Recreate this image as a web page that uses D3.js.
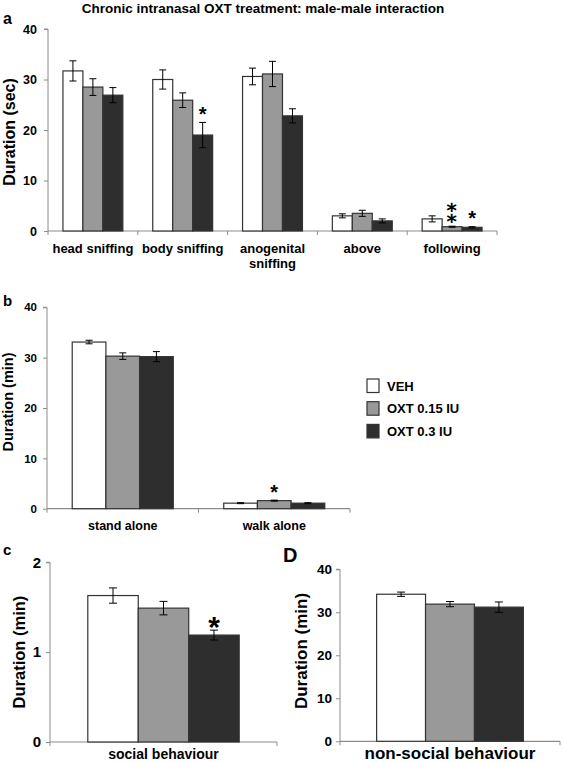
<!DOCTYPE html>
<html><head><meta charset="utf-8">
<script src="https://cdn.jsdelivr.net/npm/d3@7"></script>
<style>
html,body{margin:0;padding:0;background:#fff;}
svg{display:block;font-family:"Liberation Sans",Arial,sans-serif;font-weight:bold;}
</style></head>
<body>
<svg id="chart" width="563" height="762"></svg>
<script>
// ---------- DATA ----------
const title = "Chronic intranasal OXT treatment: male-male interaction";
const seriesNames = ["VEH", "OXT 0.15 IU", "OXT 0.3 IU"];

// Panel a
const catsA = ["head sniffing", "body sniffing", "anogenital sniffing", "above", "following"];
const vehA   = [31.7, 30.0, 30.6, 3.0, 2.4];
const vehAErr= [2.0, 1.9, 1.65, 0.4, 0.6];
const o15A   = [28.5, 25.9, 31.1, 3.5, 0.85];
const o15AErr= [1.65, 1.45, 2.5, 0.6, 0.1];
const o3A    = [26.9, 19.0, 22.8, 2.0, 0.73];
const o3AErr = [1.5, 2.5, 1.4, 0.4, 0.12];
const ticksA = [0, 10, 20, 30, 40];
const sigA = [{cat: 1, s: 2, mark: "*"}, {cat: 4, s: 1, mark: "**"}, {cat: 4, s: 2, mark: "*"}];

// Panel b
const catsB = ["stand alone", "walk alone"];
const vehB   = [33.1, 1.1];
const vehBErr= [0.35, 0.1];
const o15B   = [30.3, 1.6];
const o15BErr= [0.65, 0.1];
const o3B    = [30.2, 1.1];
const o3BErr = [1.0, 0.1];
const ticksB = [0, 10, 20, 30, 40];
const sigB = [{cat: 1, s: 1, mark: "*"}];

// Panel c
const catsC = ["social behaviour"];
const vehC   = [1.63];
const vehCErr= [0.085];
const o15C   = [1.49];
const o15CErr= [0.075];
const o3C    = [1.19];
const o3CErr = [0.055];
const ticksC = [0, 1, 2];
const sigC = [{cat: 0, s: 2, mark: "*"}];

// Panel D
const catsD = ["non-social behaviour"];
const vehD   = [34.2];
const vehDErr= [0.5];
const o15D   = [31.9];
const o15DErr= [0.6];
const o3D    = [31.2];
const o3DErr = [1.2];
const ticksD = [0, 10, 20, 30, 40];
const sigD = [];

// ---------- STYLE ----------
const fills = ["#ffffff", "#999999", "#2e2e2e"];
const axisCol = "#8c8c8c";
const barStroke = "#333";

const svg = d3.select("#chart");
svg.append("rect").attr("width", 563).attr("height", 762).attr("fill", "#fff");

svg.append("text").attr("x", 263).attr("y", 13).attr("text-anchor", "middle")
  .attr("font-size", 13.5).text(title);

function panel(o) {
  const cats = o.cats;
  const series = [o.veh, o.o15, o.o3];
  const errs = [o.vehErr, o.o15Err, o.o3Err];
  const x0 = d3.scaleBand().domain(d3.range(cats.length)).range(o.xr).padding(0);
  const step = x0.step();
  const gw = step * 0.667;
  const x1 = d3.scaleBand().domain([0, 1, 2]).range([(step - gw) / 2, (step + gw) / 2]).padding(0);
  const y = d3.scaleLinear().domain(o.yd).range(o.yr);
  const g = svg.append("g");

  // y axis
  const ya = g.append("g").attr("transform", `translate(${o.xr[0]},0)`)
    .call(d3.axisLeft(y).tickValues(o.ticks).tickSize(4).tickPadding(o.tickPad).tickFormat(d3.format("d")));
  ya.select(".domain").attr("stroke", axisCol).attr("d", `M-4,${y(o.yd[1])}H0V${y(0)}`);
  ya.selectAll(".tick line").attr("stroke", axisCol);
  ya.selectAll(".tick text").attr("font-size", o.tickFont).attr("font-family", "Liberation Sans, Arial, sans-serif")
    .attr("font-weight", "bold").attr("fill", "#000");

  // x axis line with boundary ticks
  const bounds = d3.range(cats.length + 1).map(i => o.xr[0] + i * step);
  g.append("line").attr("x1", o.xr[0]).attr("x2", o.xr[1]).attr("y1", y(0)).attr("y2", y(0))
    .attr("stroke", axisCol).attr("stroke-width", 1.2);
  g.selectAll(".xt").data(bounds).enter().append("line")
    .attr("x1", d => d).attr("x2", d => d).attr("y1", y(0)).attr("y2", y(0) + 4)
    .attr("stroke", axisCol);

  // bars
  const data = [];
  cats.forEach((c, i) => series.forEach((s, j) => data.push({i, j, v: s[i], e: errs[j][i]})));
  const bx = d => x0(d.i) + x1(d.j);
  g.selectAll(".bar").data(data).enter().append("rect")
    .attr("x", bx).attr("width", x1.bandwidth())
    .attr("y", d => y(d.v)).attr("height", d => y(0) - y(d.v))
    .attr("fill", d => fills[d.j]).attr("stroke", barStroke).attr("stroke-width", 1.2);

  // error bars
  const cw = o.cap;
  const eb = g.selectAll(".eb").data(data).enter().append("g")
    .attr("transform", d => `translate(${bx(d) + x1.bandwidth() / 2},0)`);
  eb.append("line").attr("y1", d => y(d.v + d.e)).attr("y2", d => y(d.v - d.e)).attr("stroke", "#000");
  eb.append("line").attr("x1", -cw / 2).attr("x2", cw / 2).attr("y1", d => y(d.v + d.e)).attr("y2", d => y(d.v + d.e)).attr("stroke", "#000");
  eb.append("line").attr("x1", -cw / 2).attr("x2", cw / 2).attr("y1", d => y(d.v - d.e)).attr("y2", d => y(d.v - d.e)).attr("stroke", "#000");

  // significance marks; a double mark uses the single glyph U+2051 (two asterisks aligned vertically)
  o.sig.forEach(sg => {
    const v = series[sg.s][sg.cat] + errs[sg.s][sg.cat];
    const cx = x0(sg.cat) + x1(sg.s) + x1.bandwidth() / 2;
    if (sg.mark === "**") {
      g.append("text").attr("x", cx).attr("text-anchor", "middle")
        .attr("font-family", "DejaVu Sans").attr("font-size", o.starFont * 1.25)
        .attr("y", y(v) - o.starGap + o.starFont * 0.55)
        .text("\u2051");
    } else {
      g.append("text").attr("x", cx).attr("text-anchor", "middle").attr("font-size", o.starFont)
        .attr("y", y(v) - o.starGap + o.starFont * 0.62).text(sg.mark);
    }
  });

  // category labels
  cats.forEach((c, i) => {
    const words = o.wrap && c === "anogenital sniffing" ? ["anogenital", "sniffing"] : [c];
    words.forEach((w, k) => {
      g.append("text").attr("x", x0(i) + step / 2).attr("y", o.catY + k * 15)
        .attr("text-anchor", "middle").attr("font-size", o.catFont).text(w);
    });
  });

  // y label
  g.append("text").attr("transform", `translate(${o.ylx},${o.yly}) rotate(-90)`)
    .attr("text-anchor", "middle").attr("font-size", o.ylFont).text(o.ylabel);

  // panel letter
  g.append("text").attr("x", o.lx).attr("y", o.ly).attr("font-size", o.lFont).text(o.letter);
}

panel({cats: catsA, veh: vehA, vehErr: vehAErr, o15: o15A, o15Err: o15AErr, o3: o3A, o3Err: o3AErr,
  ticks: ticksA, sig: sigA, xr: [48, 497], yd: [0, 40], yr: [231, 29], tickFont: 12.5, tickPad: 7,
  cap: 7, starGap: 14, starFont: 20, catY: 253, catFont: 13, wrap: true,
  ylabel: "Duration (sec)", ylx: 15, yly: 132, ylFont: 16, letter: "a", lx: 3, ly: 24, lFont: 16});

panel({cats: catsB, veh: vehB, vehErr: vehBErr, o15: o15B, o15Err: o15BErr, o3: o3B, o3Err: o3BErr,
  ticks: ticksB, sig: sigB, xr: [47, 350], yd: [0, 40], yr: [508.7, 307.3], tickFont: 11.5, tickPad: 6,
  cap: 7, starGap: 14, starFont: 20, catY: 530, catFont: 12.5, wrap: false,
  ylabel: "Duration (min)", ylx: 13, yly: 402, ylFont: 14.5, letter: "b", lx: 3, ly: 306, lFont: 15});

panel({cats: catsC, veh: vehC, vehErr: vehCErr, o15: o15C, o15Err: o15CErr, o3: o3C, o3Err: o3CErr,
  ticks: ticksC, sig: sigC, xr: [50, 277], yd: [0, 2], yr: [742, 562.3], tickFont: 15, tickPad: 5,
  cap: 8, starGap: 12, starFont: 30, catY: 759, catFont: 14, wrap: false,
  ylabel: "Duration (min)", ylx: 25, yly: 652, ylFont: 16.5, letter: "c", lx: 3, ly: 555, lFont: 15});

panel({cats: catsD, veh: vehD, vehErr: vehDErr, o15: o15D, o15Err: o15DErr, o3: o3D, o3Err: o3DErr,
  ticks: ticksD, sig: sigD, xr: [340, 560], yd: [0, 40], yr: [741.3, 569.3], tickFont: 13.5, tickPad: 4,
  cap: 8, starGap: 12, starFont: 30, catY: 759, catFont: 17, wrap: false,
  ylabel: "Duration (min)", ylx: 307, yly: 651, ylFont: 17, letter: "D", lx: 283, ly: 562, lFont: 20});

// legend
const leg = svg.append("g");
seriesNames.forEach((n, i) => {
  const yy = 379 + i * 22.7;
  leg.append("rect").attr("x", 367).attr("y", yy).attr("width", 12).attr("height", 13.5)
    .attr("fill", fills[i]).attr("stroke", barStroke).attr("stroke-width", 1.2);
  leg.append("text").attr("x", 387).attr("y", yy + 11.5).attr("font-size", 13).text(n);
});
</script>
</body></html>
